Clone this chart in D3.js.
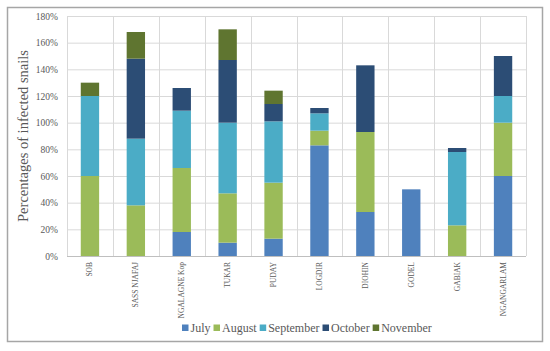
<!DOCTYPE html>
<html>
<head>
<meta charset="utf-8">
<script src="https://cdn.jsdelivr.net/npm/d3@7"></script>
<style>
  body { margin: 0; background: #fff; }
  svg text { font-family: "Liberation Serif", "Times New Roman", serif !important; }
</style>
</head>
<body>
<script>
const svgWidth = 550
const svgHeight = 351

const sites = ["SOB", "SASS NJAFAJ", "NGALAGNE Kop", "TUKAR", "PUDAY", "LOGDIR", "DIOHIN", "GODEL", "GABIAK", "NGANGARLAM"]
const months = ["July", "August", "September", "October", "November"]
const july = [0, 0, 18, 10, 13, 83, 33, 50, 0, 60]
const august = [60, 38, 48, 37, 42, 11, 60, 0, 23, 40]
const september = [60, 50, 43, 53, 46, 13, 0, 0, 55, 20]
const october = [0, 60, 17, 47, 13, 4, 50, 0, 3, 30]
const november = [10, 20, 0, 23, 10, 0, 0, 0, 0, 0]
const yTicks = [0, 20, 40, 60, 80, 100, 120, 140, 160, 180]
const colors = ["#4f81bd", "#9bbb59", "#4bacc6", "#2c4d75", "#5f7530"]

const series = [july, august, september, october, november]
const table = sites.map((s, i) => {
  const row = { site: s }
  months.forEach((m, j) => row[m] = series[j][i])
  return row
})

const margin = { top: 16, right: 24, bottom: 95, left: 67 }
const chartWidth = svgWidth - margin.left - margin.right
const chartHeight = svgHeight - margin.top - margin.bottom

const svg = d3.select("body").append("svg")
  .attr("width", svgWidth)
  .attr("height", svgHeight)
  .attr("font-family", "Liberation Serif, serif")

// outer frame
svg.append("rect")
  .attr("x", 7.5).attr("y", 7.5)
  .attr("width", 535).attr("height", 334)
  .attr("fill", "none")
  .attr("stroke", "#a6a6a6")
  .attr("stroke-width", 1.5)

const chartG = svg.append("g")
  .attr("transform", `translate(${margin.left}, ${margin.top})`)

const x = d3.scaleBand()
  .domain(sites)
  .range([0, chartWidth])
  .paddingInner(0.6)
  .paddingOuter(0.3)

const y = d3.scaleLinear()
  .domain([0, 180])
  .range([chartHeight, 0])

// horizontal grid
chartG.append("g")
  .selectAll("line")
  .data(yTicks)
  .enter().append("line")
  .attr("x1", 0).attr("x2", chartWidth)
  .attr("y1", d => y(d) + 0.5).attr("y2", d => y(d) + 0.5)
  .attr("stroke", "#d9d9d9")

// vertical grid at category boundaries
const step = chartWidth / sites.length
chartG.append("g")
  .selectAll("line")
  .data(d3.range(sites.length + 1))
  .enter().append("line")
  .attr("x1", d => Math.round(d * step) + 0.5).attr("x2", d => Math.round(d * step) + 0.5)
  .attr("y1", 0).attr("y2", chartHeight)
  .attr("stroke", "#d9d9d9")

const stacked = d3.stack().keys(months)(table)

chartG.append("g")
  .selectAll("g")
  .data(stacked)
  .enter().append("g")
  .attr("fill", (d, i) => colors[i])
  .selectAll("rect")
  .data(d => d)
  .enter().append("rect")
  .attr("x", d => x(d.data.site))
  .attr("width", x.bandwidth())
  .attr("y", d => y(d[1]))
  .attr("height", d => y(d[0]) - y(d[1]))

// y axis labels
const yAxis = d3.axisLeft(y)
  .tickValues(yTicks)
  .tickSize(0)
  .tickPadding(9)
  .tickFormat(d => d + "%")

chartG.append("g")
  .call(yAxis)
  .attr("font-family", null)
  .call(g => g.select(".domain").remove())
  .selectAll("text")
  .attr("font-size", 9.5)
  .attr("fill", "#595959")

// x axis line
chartG.append("line")
  .attr("x1", 0).attr("x2", chartWidth)
  .attr("y1", chartHeight + 0.5).attr("y2", chartHeight + 0.5)
  .attr("stroke", "#bfbfbf")

// x labels, rotated
chartG.append("g")
  .selectAll("text")
  .data(sites)
  .enter().append("text")
  .attr("transform", d => `translate(${x(d) + x.bandwidth() / 2 + 2.5}, ${chartHeight + 6}) rotate(-90)`)
  .attr("text-anchor", "end")
  .attr("font-size", 7.5)
  .attr("fill", "#595959")
  .text(d => d)

// y title
svg.append("text")
  .attr("transform", `translate(28, ${margin.top + chartHeight / 2}) rotate(-90)`)
  .attr("text-anchor", "middle")
  .attr("font-size", 14.5)
  .attr("fill", "#595959")
  .text("Percentages of infected snails")

// legend
const legend = svg.append("g").attr("transform", "translate(182, 328)")
let lx = 0
months.forEach((m, i) => {
  const item = legend.append("g").attr("transform", `translate(${lx}, 0)`)
  item.append("rect")
    .attr("x", 0).attr("y", -3.5)
    .attr("width", 6.5).attr("height", 6.5)
    .attr("fill", colors[i])
  const t = item.append("text")
    .attr("x", 8.5).attr("y", 4)
    .attr("font-size", 12)
    .attr("fill", "#595959")
    .text(m)
  lx += 8.5 + t.node().getComputedTextLength() + 3
})
</script>
</body>
</html>
